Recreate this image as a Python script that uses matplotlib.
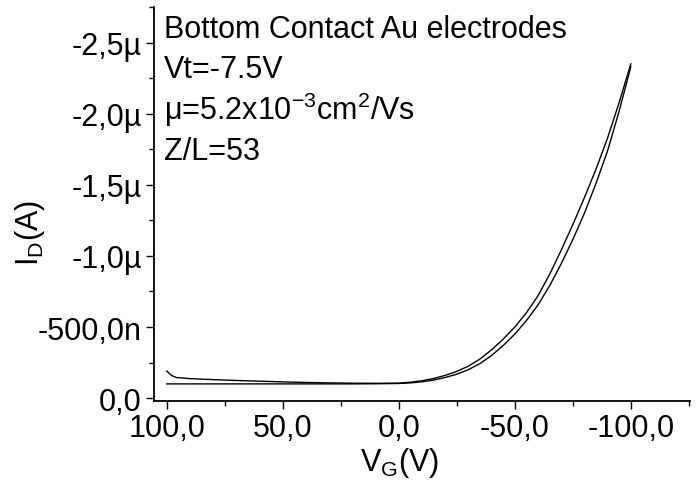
import matplotlib
matplotlib.use("Agg")
import matplotlib.pyplot as plt
from matplotlib.ticker import FixedLocator, FixedFormatter, MultipleLocator
import numpy as np

plt.rcParams['font.family'] = ['Liberation Sans', 'DejaVu Sans']
plt.rcParams['mathtext.fontset'] = 'custom'
plt.rcParams['mathtext.rm'] = 'Liberation Sans'
plt.rcParams['mathtext.it'] = 'Liberation Sans:italic'
plt.rcParams['mathtext.default'] = 'regular'

# gate voltage sweep (V) and drain current (µA) for both sweep directions
vg = [100, 98, 96, 90, 80, 70, 60, 50, 40, 30, 20, 10, 0,
      -5, -10, -15, -20, -25, -30, -35, -40, -45, -50,
      -55, -60, -65, -70, -75, -80, -85, -90, -95, -100]
id_fwd = [-0.19, -0.16, -0.145, -0.137, -0.13, -0.124, -0.119, -0.114, -0.11, -0.107, -0.105, -0.104, -0.105,
          -0.112, -0.122, -0.138, -0.16, -0.188, -0.225, -0.275, -0.34, -0.415, -0.50,
          -0.60, -0.72, -0.87, -1.04, -1.22, -1.41, -1.61, -1.83, -2.08, -2.35]
id_rev = [-0.100, -0.100, -0.100, -0.100, -0.100, -0.100, -0.100, -0.100, -0.100, -0.100, -0.100, -0.101, -0.103,
          -0.107, -0.115, -0.127, -0.145, -0.168, -0.20, -0.243, -0.30, -0.37, -0.45,
          -0.545, -0.655, -0.79, -0.945, -1.115, -1.30, -1.51, -1.74, -2.02, -2.33]

xtick_vals = [100, 50, 0, -50, -100]
xtick_labels = ["100,0", "50,0", "0,0", "-50,0", "-100,0"]
ytick_vals = [0.0, -0.5e-6, -1.0e-6, -1.5e-6, -2.0e-6, -2.5e-6]
ytick_labels = ["0,0", "-500,0n", "-1,0\u00b5", "-1,5\u00b5", "-2,0\u00b5", "-2,5\u00b5"]

fs = 22

fig = plt.figure(figsize=(7.0, 4.89), dpi=100, facecolor="white")
ax = fig.add_axes([0.2207, 0.178, 0.765, 0.8056])

ax.plot(vg, np.array(id_fwd) * 1e-6, '-', color='black', linewidth=1.0)
ax.plot(vg, np.array(id_rev) * 1e-6, '-', color='black', linewidth=1.0)

ax.set_xlim(105.3, -125.5)
ax.set_ylim(0.02e-6, -2.75e-6)

ax.spines['top'].set_visible(False)
ax.spines['right'].set_visible(False)
ax.spines['left'].set_linewidth(1.3)
ax.spines['bottom'].set_linewidth(1.3)

ax.xaxis.set_major_locator(FixedLocator(xtick_vals))
ax.xaxis.set_major_formatter(FixedFormatter(xtick_labels))
ax.xaxis.set_minor_locator(MultipleLocator(25))
ax.yaxis.set_major_locator(FixedLocator(ytick_vals))
ax.yaxis.set_major_formatter(FixedFormatter(ytick_labels))
ax.yaxis.set_minor_locator(MultipleLocator(0.25e-6))

ax.tick_params(which='major', direction='out', length=6, width=1.0, labelsize=fs, pad=3)
ax.tick_params(which='minor', direction='out', length=3.5, width=1.0)

ax.set_xlabel("V$_G$(V)", fontsize=fs)
ax.set_ylabel("I$_D$(A)", fontsize=fs)
ax.xaxis.set_label_coords(0.458, -0.113)
ax.yaxis.set_label_coords(-0.20, 0.43)

tx = 0.018
ax.text(tx, 0.983, "Bottom Contact Au electrodes", transform=ax.transAxes, fontsize=fs, va='top')
ax.text(tx, 0.882, "Vt=-7.5V", transform=ax.transAxes, fontsize=fs, va='top')
ax.text(tx, 0.79, r"$\mu$=5.2x10$^{-3}$cm$^{2}$/Vs", transform=ax.transAxes, fontsize=fs, va='top')
ax.text(tx, 0.672, "Z/L=53", transform=ax.transAxes, fontsize=fs, va='top')

fig.savefig("out.png", dpi=100)
